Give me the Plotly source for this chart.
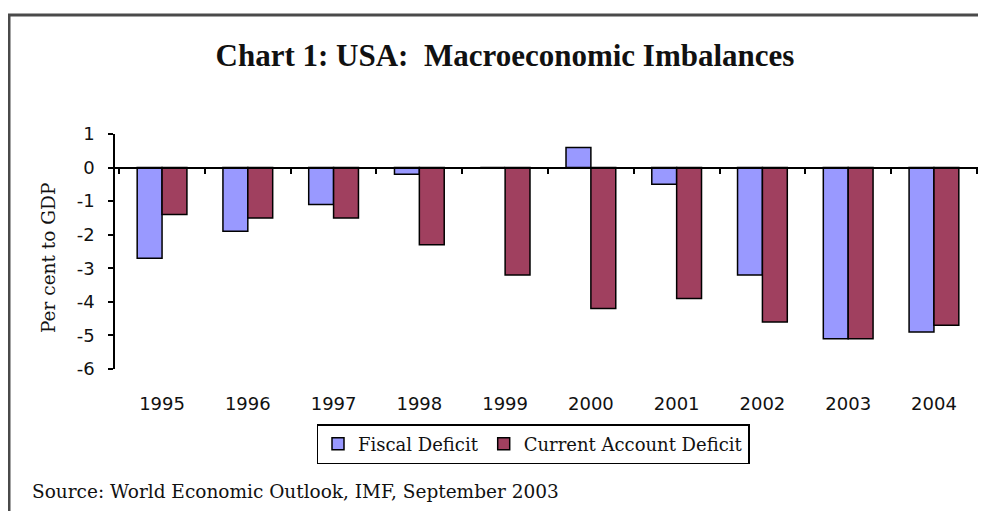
import plotly.graph_objects as go

years = ["1995", "1996", "1997", "1998", "1999", "2000", "2001", "2002", "2003", "2004"]
fiscal = [-2.7, -1.9, -1.1, -0.2, 0.0, 0.6, -0.5, -3.2, -5.1, -4.9]
current = [-1.4, -1.5, -1.5, -2.3, -3.2, -4.2, -3.9, -4.6, -5.1, -4.7]
y_ticks = [1, 0, -1, -2, -3, -4, -5, -6]

OFF = 8  # page body margin
W, H = 986 - OFF, 511 - OFF
# screen coordinates of plot area
SL, SR, ST, SB = 115, 981, 134, 369
L, T = SL - OFF, ST - OFF
R = W - (SR - OFF)
B = H - (SB - OFF)
pw = SR - SL
ph = SB - ST

def px(x):
    return (x - SL) / pw

def py(y):
    return (SB - y) / ph

fig = go.Figure()
fig.add_trace(go.Bar(x=years, y=fiscal, name="Fiscal Deficit",
                     marker=dict(color="#9999FF", line=dict(color="black", width=1.5))))
fig.add_trace(go.Bar(x=years, y=current, name="Current Account Deficit",
                     marker=dict(color="#A0405F", line=dict(color="black", width=1.5))))

# invisible trace on overlay axis to draw zero-line axis with boundary ticks
fig.add_trace(go.Scatter(x=years, y=[None] * len(years), xaxis="x2", showlegend=False,
                         hoverinfo="skip"))

fig.update_layout(
    width=W, height=H,
    margin=dict(l=L, r=R, t=T, b=B),
    paper_bgcolor="white", plot_bgcolor="white",
    barmode="group", bargap=0.42, bargroupgap=0,
    showlegend=True,
    title=dict(text="<b>Chart 1: USA:  Macroeconomic Imbalances</b>",
               x=(505 - OFF) / W, xanchor="center", y=1 - (55 - OFF) / H, yanchor="middle",
               font=dict(family="Liberation Serif", size=31, color="#111")),
    xaxis=dict(type="category", showline=False, showgrid=False, zeroline=False,
               ticks="", ticklabelstandoff=22,
               tickfont=dict(family="DejaVu Sans", size=18, color="#111")),
    xaxis2=dict(type="category", overlaying="x", anchor="free", position=6 / 7,
                showline=True, linecolor="black", linewidth=1.5,
                ticks="outside", tickson="boundaries", ticklen=6, tickwidth=1.5,
                tickcolor="black", showticklabels=False, showgrid=False, zeroline=False,
                matches="x"),
    yaxis=dict(range=[-6, 1], tickvals=y_ticks, ticktext=[str(v) for v in y_ticks],
               showline=True, linecolor="black", linewidth=1.5,
               ticks="outside", ticklen=5, tickwidth=1.5, tickcolor="black",
               showgrid=False, zeroline=False, ticklabelstandoff=10,
               tickfont=dict(family="DejaVu Sans", size=18, color="#111")),
    legend=dict(orientation="h", x=px(533), xanchor="center", y=py(424), yanchor="top",
                bordercolor="black", borderwidth=1.5, bgcolor="white",
                font=dict(family="DejaVu Serif", size=18, color="#111"),
                itemwidth=30, tracegroupgap=0),
    annotations=[
        dict(text="Per cent to GDP", xref="paper", yref="paper", x=px(48), y=py(258),
             xanchor="center", yanchor="middle", textangle=-90, showarrow=False,
             font=dict(family="DejaVu Serif", size=18.5, color="#111")),
        dict(text="Source: World Economic Outlook, IMF, September 2003", xref="paper",
             yref="paper", x=px(30), y=py(491), xanchor="left", yanchor="middle",
             showarrow=False, font=dict(family="DejaVu Serif", size=18.5, color="#111")),
    ],
    shapes=[
        dict(type="path", xref="paper", yref="paper",
             path=f"M {px(9)} {py(520)} L {px(9)} {py(15)} L {px(995)} {py(15)}",
             line=dict(color="#4a4a4a", width=3)),
    ],
)

fig.write_html("out.html")
